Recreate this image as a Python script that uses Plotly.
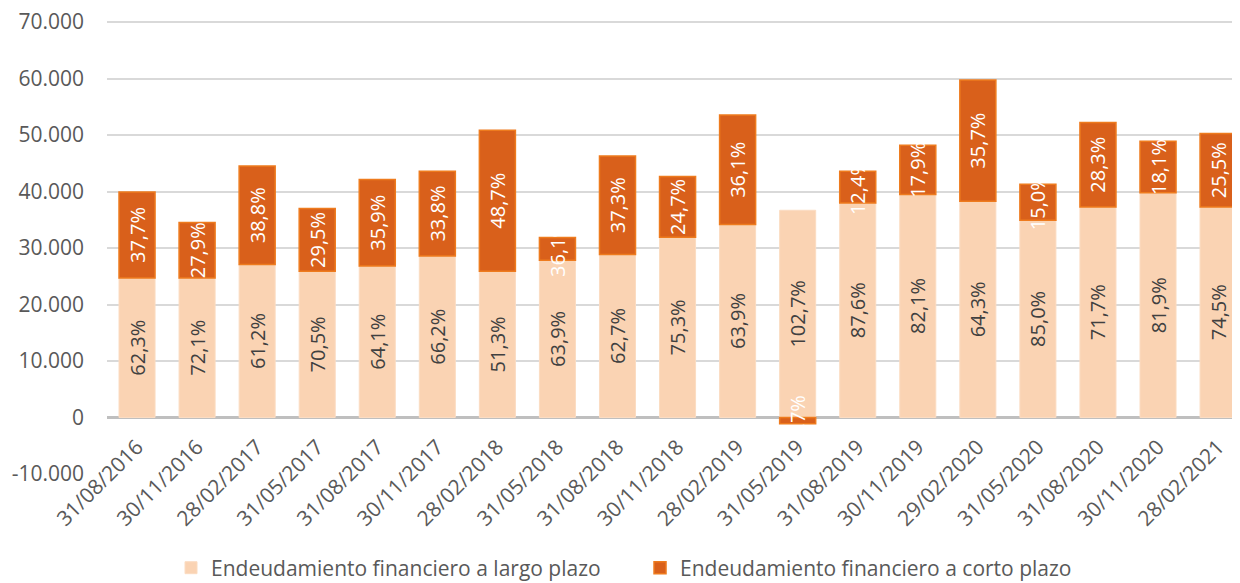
import plotly.graph_objects as go

fechas = ["31/08/2016", "30/11/2016", "28/02/2017", "31/05/2017", "31/08/2017",
          "30/11/2017", "28/02/2018", "31/05/2018", "31/08/2018", "30/11/2018",
          "28/02/2019", "31/05/2019", "31/08/2019", "30/11/2019", "29/02/2020",
          "31/05/2020", "31/08/2020", "30/11/2020", "28/02/2021"]

largo_plazo = [24700, 24700, 27060, 25870, 26820, 28590, 25870, 27820, 28830, 31900,
               34150, 36680, 37980, 39470, 38280, 34910, 37270, 39760, 37270]
corto_plazo = [15200, 9800, 17470, 11110, 15300, 15000, 24990, 4030, 17470, 10750,
               19370, -1120, 5610, 8730, 21440, 6380, 14950, 9150, 13000]

pct_largo = ["62,3%", "72,1%", "61,2%", "70,5%", "64,1%", "66,2%", "51,3%", "63,9%", "62,7%", "75,3%",
             "63,9%", "102,7%", "87,6%", "82,1%", "64,3%", "85,0%", "71,7%", "81,9%", "74,5%"]
pct_corto = ["37,7%", "27,9%", "38,8%", "29,5%", "35,9%", "33,8%", "48,7%", "36,1%", "37,3%", "24,7%",
             "36,1%", "-2,7%", "12,4%", "17,9%", "35,7%", "15,0%", "28,3%", "18,1%", "25,5%"]

y_ticks = [-10000, 0, 10000, 20000, 30000, 40000, 50000, 60000, 70000]
y_labels = ["-10.000", "0", "10.000", "20.000", "30.000", "40.000", "50.000", "60.000", "70.000"]

FONT = "Open Sans"
GRIS = "#595959"

fig = go.Figure()
fig.add_trace(go.Bar(
    x=fechas, y=largo_plazo, name="Endeudamiento financiero a largo plazo",
    marker=dict(color="#FAD3B3", line=dict(color="#FBDCC2", width=1)),
    text=pct_largo, textposition="inside", insidetextanchor="middle",
    textangle=-90, constraintext="none",
    textfont=dict(family=FONT, size=20, color="#404040"),
))
fig.add_trace(go.Bar(
    x=fechas, y=corto_plazo, name="Endeudamiento financiero a corto plazo",
    marker=dict(color="#D9601B", line=dict(color="#EE7B1E", width=1.5)),
    text=pct_corto, textposition="inside", insidetextanchor="middle",
    textangle=-90, constraintext="none",
    textfont=dict(family=FONT, size=20, color="white"),
))

# la página añade 8 px de margen al body: se compensa en el tamaño
# el eje y se alarga 10 px por arriba para que la línea de 70.000 se dibuje
fig.update_layout(
    barmode="relative",
    bargap=0.4,
    width=1232, height=575,
    margin=dict(l=99, r=0, t=4, b=109),
    plot_bgcolor="white", paper_bgcolor="white",
    font=dict(family=FONT, size=20, color=GRIS),
    xaxis=dict(
        tickangle=-45, range=[-0.5, 18.365], showgrid=False,
        tickfont=dict(family=FONT, size=21, color=GRIS),
        ticks="", showline=False, automargin=False,
        anchor="free", position=10000 / 81770, ticklabelstandoff=12,
    ),
    yaxis=dict(
        range=[-10000, 71770], tickvals=y_ticks, ticktext=y_labels,
        gridcolor="#D9D9D9", gridwidth=1.5,
        zeroline=True, zerolinecolor="#BFBFBF", zerolinewidth=3,
        tickfont=dict(family=FONT, size=21, color=GRIS), ticklabelstandoff=22,
        automargin=False, ticklabeloverflow="allow",
    ),
    legend=dict(
        orientation="h", xref="container", yref="container",
        x=0.513, y=0.026, xanchor="center", yanchor="middle",
        font=dict(family=FONT, size=21, color=GRIS),
        entrywidth=424, traceorder="normal",
    ),
)

fig.write_html("out.html")
